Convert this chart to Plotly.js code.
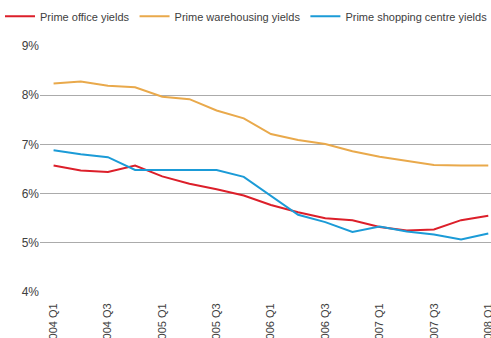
<!DOCTYPE html>
<html>
<head>
<meta charset="utf-8">
<script src="https://cdn.plot.ly/plotly-3.0.1.min.js"></script>
<style>html,body{margin:0;padding:0;background:#fff;}#chart{width:491px;height:338px;}</style>
</head>
<body>
<div id="chart"></div>
<script>
const quarters = ["2004 Q1","2004 Q2","2004 Q3","2004 Q4","2005 Q1","2005 Q2","2005 Q3","2005 Q4",
  "2006 Q1","2006 Q2","2006 Q3","2006 Q4","2007 Q1","2007 Q2","2007 Q3","2007 Q4","2008 Q1"];
const tickLabels = ["2004 Q1","2004 Q3","2005 Q1","2005 Q3","2006 Q1","2006 Q3","2007 Q1","2007 Q3","2008 Q1"];
const officeYields = [6.57,6.47,6.44,6.57,6.35,6.20,6.09,5.96,5.77,5.62,5.50,5.46,5.32,5.25,5.27,5.46,5.55];
const warehousingYields = [8.24,8.28,8.19,8.16,7.97,7.92,7.69,7.53,7.21,7.09,7.01,6.86,6.75,6.67,6.58,6.57,6.57];
const shoppingYields = [6.88,6.80,6.74,6.48,6.48,6.48,6.48,6.34,5.96,5.57,5.42,5.22,5.33,5.23,5.17,5.07,5.19];
const seriesNames = ["Prime office yields","Prime warehousing yields","Prime shopping centre yields"];
const seriesColors = ["#dc1f2a","#e9a94b","#1b9bd7"];

const traces = [officeYields, warehousingYields, shoppingYields].map((vals, i) => ({
  type: "scatter", mode: "lines", name: seriesNames[i],
  x: quarters, y: vals,
  line: {color: seriesColors[i], width: 2}
}));

const layout = {
  width: 491, height: 338,
  margin: {l: 40, r: 0, t: 46, b: 46},
  paper_bgcolor: "#fff", plot_bgcolor: "#fff",
  font: {family: "Liberation Sans, Arial, sans-serif", size: 11, color: "#404040"},
  showlegend: true,
  legend: {orientation: "h", x: -0.079, xanchor: "left", y: 1.18, yanchor: "top",
    font: {size: 11, color: "#404040"}, itemwidth: 30, tracegroupgap: 0, bgcolor: "rgba(0,0,0,0)"},
  xaxis: {
    type: "category", categoryorder: "array", categoryarray: quarters,
    range: [-0.5, 16.1], tickmode: "array", tickvals: tickLabels, ticktext: tickLabels,
    tickangle: -90, ticks: "outside", ticklen: 6, tickcolor: "rgba(0,0,0,0)",
    showgrid: false, showline: false, zeroline: false,
    tickfont: {size: 11, color: "#404040"}
  },
  yaxis: {
    range: [4, 9], tickvals: [4,5,6,7,8,9], ticktext: ["4%","5%","6%","7%","8%","9%"],
    showgrid: true, gridcolor: "#ababab", gridwidth: 1, zeroline: false, showline: false,
    ticks: "", tickfont: {size: 12, color: "#404040"}
  }
};
Plotly.newPlot("chart", traces, layout, {staticPlot: true, displayModeBar: false});
</script>
</body>
</html>
